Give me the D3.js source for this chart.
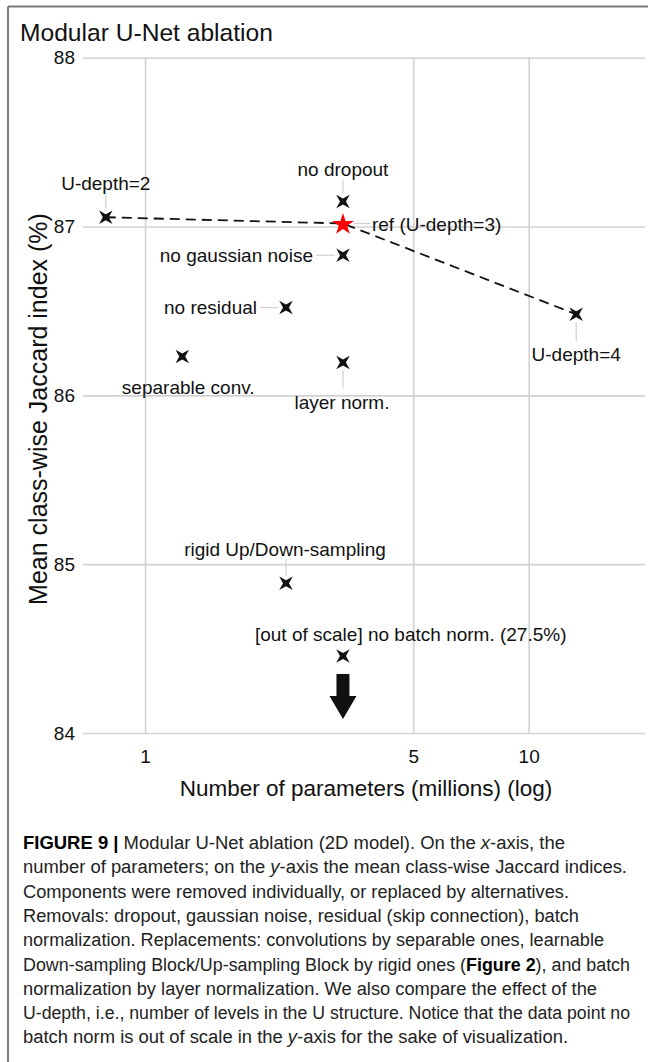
<!DOCTYPE html>
<html>
<head>
<meta charset="utf-8">
<script src="https://cdn.jsdelivr.net/npm/d3@7"></script>
<style>
  body { margin: 0; background: #fff; }
  svg { display: block; font-family: "Liberation Sans", Arial, sans-serif; }
  .grid line { stroke: #d2d2d2; stroke-width: 1.6; }
  .grid text { fill: #111; font-size: 19px; }
  .leader { stroke: #cfcfcf; stroke-width: 1.2; }
  .pt-label { font-size: 19px; fill: #111; }
  .caption { font-size: 18px; fill: #222; }
</style>
</head>
<body>
<svg width="648" height="1062"></svg>
<script>
// data
var configs = ['U-depth=2', 'ref (U-depth=3)', 'U-depth=4', 'no dropout', 'no gaussian noise',
               'no residual', 'separable conv.', 'layer norm.', 'rigid Up/Down-sampling',
               '[out of scale] no batch norm. (27.5%)'];
var params = [0.79, 3.28, 13.3, 3.28, 3.28, 2.33, 1.25, 3.28, 2.33, 3.28];   // millions
var jaccard = [87.055, 87.018, 86.48, 87.148, 86.83, 86.52, 86.23, 86.195, 84.887, 84.456];
var depthSeries = ['U-depth=2', 'ref (U-depth=3)', 'U-depth=4'];
var yTicks = [84, 85, 86, 87, 88];
var xTicks = [1, 5, 10];

// label placement (px offsets from the point), anchor, leader line
var labelPos = {
    'U-depth=2': {dx: 0, dy: -34, anchor: 'middle', lead: [0, -9, 0, -24]},
    'ref (U-depth=3)': {dx: 29, dy: 1, anchor: 'start', lead: [11, 0, 27, 0]},
    'U-depth=4': {dx: 0, dy: 40, anchor: 'middle', lead: [0, 8, 0, 27]},
    'no dropout': {dx: 0, dy: -32, anchor: 'middle', lead: [0, -8, 0, -22]},
    'no gaussian noise': {dx: -30, dy: 0, anchor: 'end', lead: [-8, 0, -27, 0]},
    'no residual': {dx: -29, dy: 0, anchor: 'end', lead: [-8, 0, -26, 0]},
    'separable conv.': {dx: 6, dy: 31, anchor: 'middle', lead: null},
    'layer norm.': {dx: -1, dy: 40, anchor: 'middle', lead: [0, 8, 0, 25]},
    'rigid Up/Down-sampling': {dx: -1, dy: -34, anchor: 'middle', lead: [0, -8, 0, -24]},
    '[out of scale] no batch norm. (27.5%)': {dx: -88, dy: -22, anchor: 'start', lead: null}
};

var captionLines = [
    [['b', 'FIGURE 9 | '], ['', 'Modular U-Net ablation (2D model). On the '], ['i', 'x'], ['', '-axis, the']],
    [['', 'number of parameters; on the '], ['i', 'y'], ['', '-axis the mean class-wise Jaccard indices.']],
    [['', 'Components were removed individually, or replaced by alternatives.']],
    [['', 'Removals: dropout, gaussian noise, residual (skip connection), batch']],
    [['', 'normalization. Replacements: convolutions by separable ones, learnable']],
    [['', 'Down-sampling Block/Up-sampling Block by rigid ones ('], ['b', 'Figure 2'], ['', '), and batch']],
    [['', 'normalization by layer normalization. We also compare the effect of the']],
    [['', 'U-depth, i.e., number of levels in the U structure. Notice that the data point no']],
    [['', 'batch norm is out of scale in the '], ['i', 'y'], ['', '-axis for the sake of visualization.']]
];
var captionEnds = [565, 627, 569, 579, 604, 630, 597, 630, 568];

var svg = d3.select('svg');

var plot = {l: 83, r: 645, t: 57.7, b: 733};

var xScale = d3.scaleLog().domain([0.689, 20.1]).range([plot.l, plot.r]);
var yScale = d3.scaleLinear().domain([84, 88]).range([plot.b, plot.t]);

// frame
svg.append('line').attr('x1', 8).attr('y1', 6.5).attr('x2', 648).attr('y2', 6.5)
    .attr('stroke', '#7a7a7a').attr('stroke-width', 2);
svg.append('line').attr('x1', 8).attr('y1', 6.5).attr('x2', 8).attr('y2', 1062)
    .attr('stroke', '#7a7a7a').attr('stroke-width', 2);

// title
svg.append('text')
    .attr('x', 20).attr('y', 41)
    .style('font-size', '24.6px').attr('fill', '#111')
    .text('Modular U-Net ablation');

// y grid + labels
var yAxis = svg.append('g')
    .attr('class', 'grid')
    .attr('transform', 'translate(' + plot.l + ',0)')
    .call(d3.axisLeft(yScale).tickValues(yTicks).tickSize(-(plot.r - plot.l)).tickPadding(8).tickFormat(d3.format('d')));
yAxis.select('.domain').remove();

// x grid + labels
var xAxis = svg.append('g')
    .attr('class', 'grid')
    .attr('transform', 'translate(0,' + plot.b + ')')
    .call(d3.axisBottom(xScale).tickValues(xTicks).tickSize(-(plot.b - plot.t)).tickPadding(17).tickFormat(d3.format('d')));
xAxis.select('.domain').remove();
svg.selectAll('.grid').attr('font-family', null).attr('font-size', null);

// axis titles
svg.append('text')
    .attr('x', 366).attr('y', 796)
    .attr('text-anchor', 'middle')
    .style('font-size', '22.5px').attr('fill', '#111')
    .text('Number of parameters (millions) (log)');
svg.append('text')
    .attr('transform', 'translate(47,409) rotate(-90)')
    .attr('text-anchor', 'middle')
    .style('font-size', '25px').attr('fill', '#111')
    .text('Mean class-wise Jaccard index (%)');

var points = configs.map(function(c, i) {
    return {name: c, x: params[i], y: jaccard[i]};
});

// leader lines
svg.selectAll('.leader')
    .data(points.filter(function(d) { return labelPos[d.name].lead; }))
    .enter().append('line')
    .attr('class', 'leader')
    .attr('x1', function(d) { return xScale(d.x) + labelPos[d.name].lead[0]; })
    .attr('y1', function(d) { return yScale(d.y) + labelPos[d.name].lead[1]; })
    .attr('x2', function(d) { return xScale(d.x) + labelPos[d.name].lead[2]; })
    .attr('y2', function(d) { return yScale(d.y) + labelPos[d.name].lead[3]; });

// dashed U-depth line
var depthPts = points.filter(function(d) { return depthSeries.indexOf(d.name) >= 0; });
svg.append('path')
    .datum(depthPts)
    .attr('d', d3.line().x(function(d) { return xScale(d.x); }).y(function(d) { return yScale(d.y); }))
    .attr('fill', 'none')
    .attr('stroke', '#111')
    .attr('stroke-width', 1.8)
    .attr('stroke-dasharray', '10,6');

// arrow under the out-of-scale point
var nb = points[9];
var ax = xScale(nb.x), ay = yScale(nb.y);
svg.append('path')
    .attr('d', 'M' + (ax - 6.5) + ',' + (ay + 18) + 'H' + (ax + 6.5) + 'V' + (ay + 40) +
        'H' + (ax + 13.5) + 'L' + ax + ',' + (ay + 63) + 'L' + (ax - 13.5) + ',' + (ay + 40) +
        'H' + (ax - 6.5) + 'Z')
    .attr('fill', '#111');

// cross markers (4-point star rotated)
function crossPath(R, r) {
    var p = [];
    for (var k = 0; k < 8; k++) {
        var a = k * Math.PI / 4 + Math.PI / 4;
        var rad = (k % 2 === 0) ? R : r;
        p.push([rad * Math.cos(a), rad * Math.sin(a)]);
    }
    return 'M' + p.map(function(q) { return q[0].toFixed(2) + ',' + q[1].toFixed(2); }).join('L') + 'Z';
}

svg.selectAll('.mark')
    .data(points.filter(function(d) { return d.name !== 'ref (U-depth=3)'; }))
    .enter().append('path')
    .attr('class', 'mark')
    .attr('d', crossPath(9.5, 3))
    .attr('transform', function(d) { return 'translate(' + xScale(d.x) + ',' + yScale(d.y) + ')'; })
    .attr('fill', '#111');

var ref = points[1];
svg.append('path')
    .attr('d', d3.symbol().type(d3.symbolStar).size(150)())
    .attr('transform', 'translate(' + xScale(ref.x) + ',' + (yScale(ref.y) + 1) + ')')
    .attr('fill', '#ff0000');

// point labels
svg.selectAll('.pt-label')
    .data(points)
    .enter().append('text')
    .attr('class', 'pt-label')
    .attr('x', function(d) { return xScale(d.x) + labelPos[d.name].dx; })
    .attr('y', function(d) { return yScale(d.y) + labelPos[d.name].dy + 6.8; })
    .attr('text-anchor', function(d) { return labelPos[d.name].anchor; })
    .attr('fill', function(d) { return d.name === 'ref (U-depth=3)' ? '#ff0000' : '#111'; })
    .text(function(d) { return d.name; });

// caption
var cap = svg.append('g');
captionLines.forEach(function(line, i) {
    var t = cap.append('text')
        .attr('class', 'caption')
        .attr('x', 23)
        .attr('y', 849 + i * 24.3)
        .attr('textLength', captionEnds[i] - 23)
        .attr('lengthAdjust', 'spacingAndGlyphs');
    line.forEach(function(seg) {
        var s = t.append('tspan').text(seg[1]);
        if (seg[0] === 'b') s.attr('font-weight', 'bold').attr('fill', '#000');
        if (seg[0] === 'i') s.attr('font-style', 'italic');
    });
});
</script>
</body>
</html>
